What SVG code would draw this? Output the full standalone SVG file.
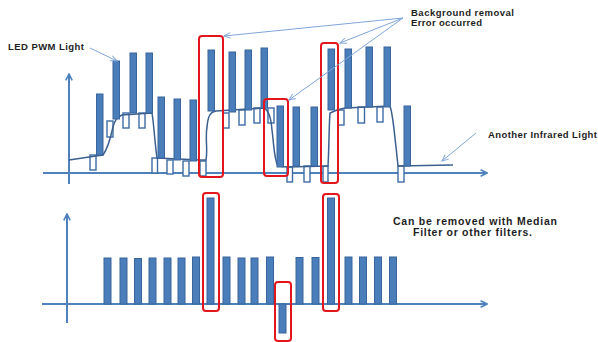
<svg xmlns="http://www.w3.org/2000/svg" width="598" height="342" viewBox="0 0 598 342">
<defs>
<style>
.ax{stroke:#4f81bd;stroke-width:2;fill:none}
.bar{fill:#4a7ebb;stroke:#39659c;stroke-width:1}
.hol{fill:#fff;stroke:#3d6ca5;stroke-width:1.4}
.crv{fill:none;stroke:#3b5f8e;stroke-width:1.5}
.red{fill:none;stroke:#e3161e;stroke-width:2}
.lbl{font-family:"Liberation Sans",Arial,sans-serif;font-weight:bold;fill:#1e1e1e}
.lead{stroke:#7fa6d8;stroke-width:1;fill:none}
</style>
<marker id="axh" viewBox="0 0 10 10" refX="9" refY="5" markerWidth="4" markerHeight="4" orient="auto" markerUnits="strokeWidth">
<path d="M1,1 L9,5 L1,9" fill="none" stroke="#4f81bd" stroke-width="2"/>
</marker>
<marker id="lh" viewBox="0 0 10 10" refX="9" refY="5" markerWidth="8" markerHeight="8" orient="auto" markerUnits="strokeWidth">
<path d="M1,1.5 L9,5 L1,8.5" fill="none" stroke="#7fa6d8" stroke-width="1.2"/>
</marker>
</defs>
<rect width="598" height="342" fill="#fff"/>

<g id="top-plot">
<g id="top-axes">
<line class="ax" x1="69" y1="184" x2="69" y2="74" marker-end="url(#axh)"/>
<line class="ax" x1="43" y1="173" x2="487" y2="173" marker-end="url(#axh)"/>
</g>
<g id="top-hollow">
<rect class="hol" x="90" y="155" width="6" height="15"/>
<rect class="hol" x="107" y="121" width="6" height="16"/>
<rect class="hol" x="123" y="113" width="6" height="15"/>
<rect class="hol" x="139" y="113" width="6" height="15"/>
<rect class="hol" x="152" y="158" width="5.5" height="15"/>
<rect class="hol" x="167" y="160" width="6" height="14"/>
<rect class="hol" x="183" y="161" width="6" height="15"/>
<rect class="hol" x="200" y="161" width="6" height="15"/>
<rect class="hol" x="223" y="113" width="6" height="15"/>
<rect class="hol" x="239" y="110" width="6" height="15"/>
<rect class="hol" x="254" y="108" width="6" height="15"/>
<rect class="hol" x="268" y="108" width="6" height="15"/>
<rect class="hol" x="287" y="167" width="5.5" height="15"/>
<rect class="hol" x="304" y="166" width="6" height="16"/>
<rect class="hol" x="323" y="166" width="5" height="16"/>
<rect class="hol" x="338" y="110" width="6" height="15"/>
<rect class="hol" x="358" y="107" width="6.5" height="16"/>
<rect class="hol" x="377" y="107" width="6" height="15"/>
<rect class="hol" x="398" y="166" width="6" height="16"/>
</g>
<path id="top-curve" class="crv" d="M69,160 L96,156 L103,155 C108,148 111,136 113,127 C115,120 117,117 122,115 L152,113 C154,125 155,145 157,158 L200,160 L206,160 C208,150 205,138 207,127 C208,116 210,112 216,111 L264,108 C268,110 271,117 272,130 C274,145 274,160 278,166 L287,167 L328,166 C329,150 329,125 330,113 L337,110 L345,108 L390,106 C393,115 394,130 396,147 L398,166 L453,165"/>
<g id="top-bars">
<rect class="bar" x="96.5" y="94" width="6.5" height="61"/>
<rect class="bar" x="113" y="61" width="6.5" height="58"/>
<rect class="bar" x="130" y="53" width="6.5" height="60"/>
<rect class="bar" x="146" y="53" width="6.5" height="60"/>
<rect class="bar" x="158" y="97" width="6.5" height="61"/>
<rect class="bar" x="174" y="99" width="6.5" height="61"/>
<rect class="bar" x="190" y="100" width="6.5" height="61"/>
<rect class="bar" x="208" y="50" width="6.5" height="61"/>
<rect class="bar" x="229" y="52" width="6.5" height="60"/>
<rect class="bar" x="245" y="50" width="6.5" height="60"/>
<rect class="bar" x="261" y="48" width="6.5" height="60"/>
<rect class="bar" x="277" y="106" width="6.5" height="61"/>
<rect class="bar" x="293" y="107" width="6.5" height="59"/>
<rect class="bar" x="311" y="107" width="6.5" height="59"/>
<rect class="bar" x="328" y="49" width="6.5" height="61"/>
<rect class="bar" x="345" y="49" width="6.5" height="59"/>
<rect class="bar" x="366" y="47" width="6.5" height="60"/>
<rect class="bar" x="384" y="47" width="6.5" height="60"/>
<rect class="bar" x="404" y="106" width="6.5" height="60"/>
</g>
<g id="top-errors">
<rect class="red" x="199" y="36" width="24" height="141" rx="3"/>
<rect class="red" x="264" y="99" width="24" height="77" rx="3"/>
<rect class="red" x="321" y="43" width="17" height="140" rx="3"/>
</g>
</g>

<g id="bottom-plot">
<g id="bottom-axes">
<line class="ax" x1="67" y1="323" x2="67" y2="214" marker-end="url(#axh)"/>
<line class="ax" x1="42" y1="304" x2="487" y2="304" marker-end="url(#axh)"/>
</g>
<g id="bottom-bars">
<rect class="bar" x="104" y="258" width="7" height="46"/>
<rect class="bar" x="120" y="258" width="7" height="46"/>
<rect class="bar" x="134.5" y="258.5" width="7" height="45.5"/>
<rect class="bar" x="149" y="258" width="7" height="46"/>
<rect class="bar" x="164" y="258" width="7" height="46"/>
<rect class="bar" x="178" y="258" width="7" height="46"/>
<rect class="bar" x="192.5" y="257" width="7" height="47"/>
<rect class="bar" x="207" y="198" width="7" height="106"/>
<rect class="bar" x="223" y="257" width="7" height="47"/>
<rect class="bar" x="238" y="258" width="7" height="46"/>
<rect class="bar" x="251" y="258" width="7" height="46"/>
<rect class="bar" x="266.5" y="257" width="7" height="47"/>
<rect class="bar" x="279" y="304" width="7" height="29"/>
<rect class="bar" x="296" y="257.5" width="7" height="46.5"/>
<rect class="bar" x="312" y="257.5" width="7" height="46.5"/>
<rect class="bar" x="327.5" y="198" width="7" height="106"/>
<rect class="bar" x="345" y="257" width="7" height="47"/>
<rect class="bar" x="359.5" y="257" width="7" height="47"/>
<rect class="bar" x="374.5" y="257" width="7" height="47"/>
<rect class="bar" x="389.5" y="257" width="7" height="47"/>
</g>
<g id="bottom-errors">
<rect class="red" x="203" y="193" width="16" height="118" rx="3"/>
<rect class="red" x="275" y="282" width="16" height="59" rx="3"/>
<rect class="red" x="323" y="194" width="16" height="117" rx="3"/>
</g>
</g>

<g id="label-led">
<text class="lbl" x="8" y="50" font-size="9.5" textLength="76" lengthAdjust="spacing">LED PWM Light</text>
</g>
<g id="label-background">
<text class="lbl" x="411" y="16" font-size="9.5" textLength="103" lengthAdjust="spacing">Background removal</text>
<text class="lbl" x="411" y="26" font-size="9.5" textLength="71" lengthAdjust="spacing">Error occurred</text>
</g>
<g id="label-infrared">
<text class="lbl" x="488" y="138" font-size="9.5" textLength="109" lengthAdjust="spacing">Another Infrared Light</text>
</g>
<g id="label-median">
<text class="lbl" x="393" y="225" font-size="10.5" textLength="164" lengthAdjust="spacing">Can be removed with Median</text>
<text class="lbl" x="413" y="236" font-size="10.5" textLength="119" lengthAdjust="spacing">Filter or other filters.</text>
</g>

<g id="connectors">
<line class="lead" x1="90" y1="48" x2="117" y2="61" marker-end="url(#lh)"/>
<line class="lead" x1="403" y1="18" x2="224" y2="36" marker-end="url(#lh)"/>
<line class="lead" x1="403" y1="18" x2="340" y2="43" marker-end="url(#lh)"/>
<line class="lead" x1="403" y1="18" x2="289" y2="100" marker-end="url(#lh)"/>
<line class="lead" x1="476" y1="133" x2="442" y2="161" marker-end="url(#lh)"/>
</g>
</svg>
